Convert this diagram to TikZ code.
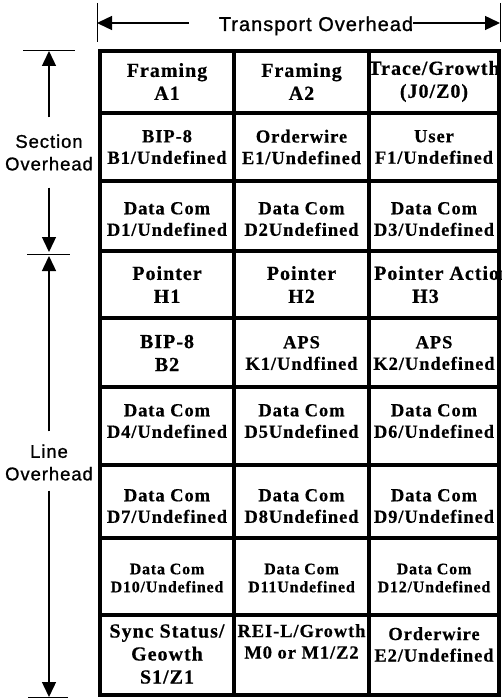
\documentclass[tikz,border=0pt]{standalone}
\usepackage{fontspec}
\usetikzlibrary{arrows.meta}
\newfontfamily\cellfont{Liberation Serif}[LetterSpace=5,FakeBold=0.5]
\newfontfamily\labelfont{Liberation Sans}[LetterSpace=5,FakeBold=1]
\tikzset{
  cell/.style={align=center, inner sep=0pt, font=\cellfont\bfseries\fontsize{18.5}{21.5}\selectfont},
  bigcell/.style={cell, font=\cellfont\bfseries\fontsize{20}{23}\selectfont},
  smallcell/.style={cell, font=\cellfont\bfseries\fontsize{16}{18}\selectfont},
  sidelabel/.style={align=center, inner sep=0pt, font=\labelfont\fontsize{18.5}{22.5}\selectfont},
  cellborder/.style={line width=4.5pt},
  spanarrow/.style={line width=1.4pt, -{Triangle[length=15pt,width=14pt]}},
  tickline/.style={line width=1pt}
}
\begin{document}
\begin{tikzpicture}[x=1pt, y=-1pt]
    \useasboundingbox (0,0) rectangle (502,698);
    % Transport overhead span across the top
    \coordinate (tl) at (97,23);
    \coordinate (tr) at (500,23);
    \draw[tickline] ([yshift=20pt]tl) -- ([yshift=-19pt]tl);
    \draw[tickline] ([yshift=20pt]tr) -- ([yshift=-19pt]tr);
    \node[sidelabel, font=\labelfont\fontsize{20}{24}\selectfont, anchor=base] (title) at (316,31) {Transport Overhead};
    \coordinate (tstart) at ([xshift=-30pt]title.west);
    \draw[spanarrow] (tstart |- tl) -- (tl);
    \draw[spanarrow] (title.east |- tr) -- (tr);

    % Section / line overhead spans on the left
    \coordinate (st) at (49,51);
    \coordinate (sb) at (49,252);
    \coordinate (lt) at (49,256);
    \coordinate (lb) at (49,697);
    \draw[tickline] (23,51) -- (75,51);
    \draw[tickline] (27,254) -- (70,254);
    \draw[tickline] (28,697) -- (68,697);
    \node[sidelabel] (secoh) at (49,152.5) {Section\\Overhead};
    \draw[spanarrow] ([yshift=17pt]secoh.north) -- (st);
    \draw[spanarrow] ([yshift=-17pt]secoh.south) -- (sb);
    \node[sidelabel] (lineoh) at (49,462.5) {Line\\Overhead};
    \draw[spanarrow] ([yshift=13pt]lineoh.north) -- (lt);
    \draw[spanarrow] ([yshift=-10pt]lineoh.south) -- (lb);

    % Row 1
    \node[bigcell] (a1) at (167,81.5) {Framing\\A1};
    \node[bigcell] (a2) at (301.5,81.5) {Framing\\A2};
    \node[bigcell] (a3) at (434,81.5) {Trace/Growth\\(J0/Z0)};
    % Row 2
    \node[cell] (b1) at (167,147) {BIP-8\\B1/Undefined};
    \node[cell] (b2) at (301.5,147) {Orderwire\\E1/Undefined};
    \node[cell] (b3) at (434,147) {User\\F1/Undefined};
    % Row 3
    \node[cell] (c1) at (167,219) {Data Com\\D1/Undefined};
    \node[cell] (c2) at (301.5,219) {Data Com\\D2Undefined};
    \node[cell] (c3) at (434,219) {Data Com\\D3/Undefined};
    % Row 4
    \node[bigcell] (d1) at (167,284.5) {Pointer\\H1};
    \node[bigcell] (d2) at (301.5,284.5) {Pointer\\H2};
    \node[bigcell, anchor=west, align=left] (d3) at (374,284.5) {Pointer Action\\\hspace*{38pt}H3};
    % Row 5
    \node[bigcell] (e1) at (167,353) {BIP-8\\B2};
    \node[cell] (e2) at (301.5,353) {APS\\K1/Undfined};
    \node[cell] (e3) at (434,353) {APS\\K2/Undefined};
    % Row 6
    \node[cell] (f1) at (167,421) {Data Com\\D4/Undefined};
    \node[cell] (f2) at (301.5,421) {Data Com\\D5Undefined};
    \node[cell] (f3) at (434,421) {Data Com\\D6/Undefined};
    % Row 7
    \node[cell] (g1) at (167,506) {Data Com\\D7/Undefined};
    \node[cell] (g2) at (301.5,506) {Data Com\\D8Undefined};
    \node[cell] (g3) at (434,506) {Data Com\\D9/Undefined};
    % Row 8
    \node[smallcell] (h1) at (167,578) {Data Com\\D10/Undefined};
    \node[smallcell] (h2) at (301.5,578) {Data Com\\D11Undefined};
    \node[smallcell] (h3) at (434,578) {Data Com\\D12/Undefined};
    % Row 9
    \node[bigcell] (i1) at (167,654) {Sync Status/\\Geowth\\S1/Z1};
    \node[cell, anchor=north] (i2) at (301.5,624) {REI-L/Growth\\M0 or M1/Z2};
    \node[cell, anchor=north] (i3) at (434,627) {Orderwire\\E2/Undefined};

    % Table rules
    \draw[cellborder] (100,51) rectangle (499,695);
    \draw[cellborder] (234,51) -- (234,695);
    \draw[cellborder] (369,51) -- (369,695);
    \draw[cellborder] (100,113) -- (499,113);
    \draw[cellborder] (100,181) -- (499,181);
    \draw[cellborder] (100,251) -- (499,251);
    \draw[cellborder] (100,318) -- (499,318);
    \draw[cellborder] (100,387) -- (499,387);
    \draw[cellborder] (100,465) -- (499,465);
    \draw[cellborder] (100,538) -- (499,538);
    \draw[cellborder] (100,615) -- (499,615);
\end{tikzpicture}
\end{document}
